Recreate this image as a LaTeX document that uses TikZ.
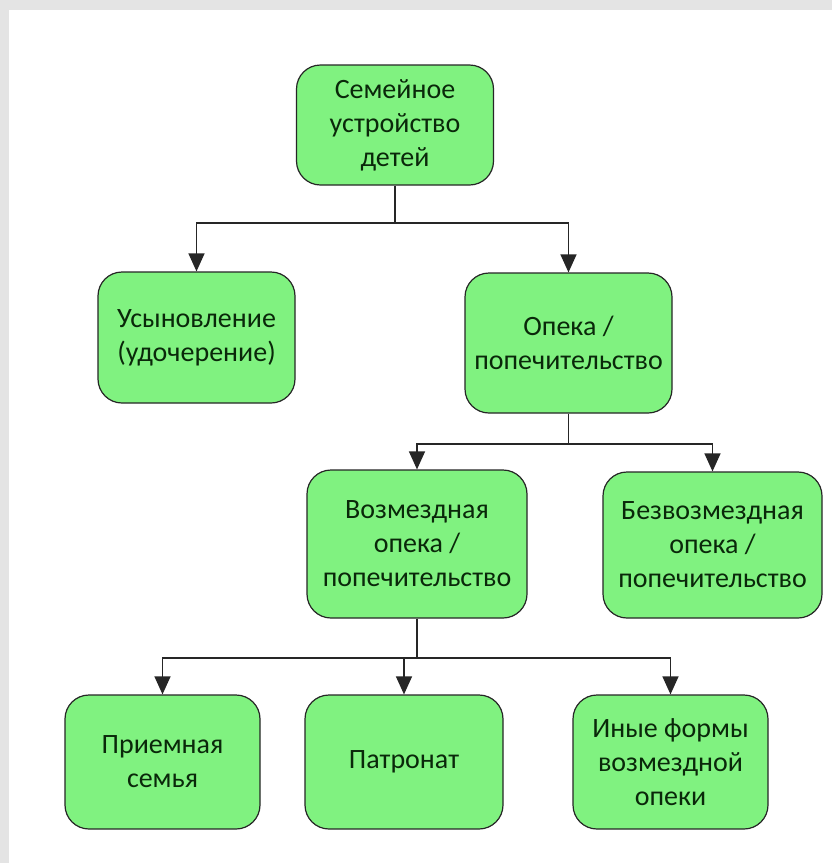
\documentclass[tikz,border=0pt]{standalone}
\usepackage{fontspec}
\setmainfont{Carlito}
\usetikzlibrary{arrows.meta}
\definecolor{boxfill}{RGB}{128,242,128}
\definecolor{boxtext}{RGB}{10,40,10}
\definecolor{frame}{RGB}{228,228,228}
\tikzset{
  box/.style={draw=black!85, line width=1.2pt, fill=boxfill, rounded corners=24pt,
    align=center, text=boxtext, inner sep=0pt,
    font=\fontsize{28}{34}\selectfont},
  conn/.style={draw=black!85, line width=1.3pt},
  arr/.style={conn, -{Triangle[length=18pt,width=16pt]}}
}
\begin{document}
\begin{tikzpicture}[x=1pt,y=-1pt]
\fill[frame] (0,0) rectangle (832,863);
\fill[white] (9,10) rectangle (832,863);
\useasboundingbox (0,0) rectangle (832,863);

\node[box, minimum width=197pt, minimum height=120pt] (s) at (395,125) {Семейное\\устройство\\детей};
\node[box, minimum width=197pt, minimum height=131pt] (u) at (196.5,337.5) {Усыновление\\(удочерение)};
\node[box, minimum width=207pt, minimum height=140pt] (o) at (568.5,343) {Опека /\\попечительство};
\node[box, minimum width=220pt, minimum height=148pt] (v) at (417,544) {Возмездная\\опека /\\попечительство};
\node[box, minimum width=219pt, minimum height=146pt] (b) at (712.5,545) {Безвозмездная\\опека /\\попечительство};
\node[box, minimum width=195pt, minimum height=134pt] (p) at (162.5,762) {Приемная\\семья};
\node[box, minimum width=198pt, minimum height=134pt] (pt) at (404,762) {Патронат};
\node[box, minimum width=195pt, minimum height=134pt] (i) at (670.5,762) {Иные формы\\возмездной\\опеки};

\coordinate (j1) at (s.south |- 0,223);
\coordinate (j2) at (o.south |- 0,444);
\coordinate (j3) at (v.south |- 0,658);

\draw[conn] (s.south) -- (j1);
\draw[arr] (j1) -| (u.north);
\draw[arr] (j1) -| (o.north);

\draw[conn] (o.south) -- (j2);
\draw[arr] (j2) -| (v.north);
\draw[arr] (j2) -| (b.north);

\draw[conn] (v.south) -- (j3);
\draw[arr] (j3) -| (p.north);
\draw[arr] (j3) -| (pt.north);
\draw[arr] (j3) -| (i.north);
\end{tikzpicture}
\end{document}
